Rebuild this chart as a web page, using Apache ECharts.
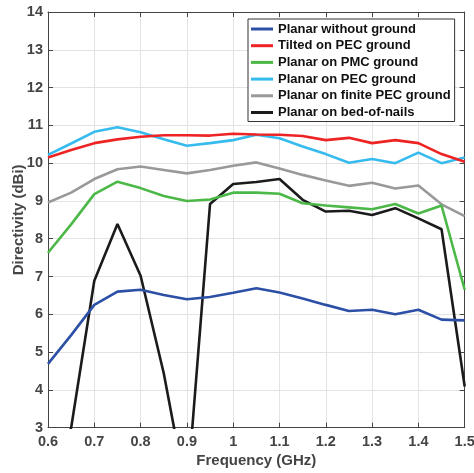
<!DOCTYPE html>
<html>
<head>
<meta charset="utf-8">
<script src="https://cdn.jsdelivr.net/npm/echarts@6/dist/echarts.min.js"></script>
<style>
html,body{margin:0;padding:0;background:#fff;}
#chart{width:474px;height:473px;}
</style>
</head>
<body>
<div id="chart"></div>
<script>
var freqs = [0.6,0.65,0.7,0.75,0.8,0.85,0.9,0.95,1.0,1.05,1.1,1.15,1.2,1.25,1.3,1.35,1.4,1.45,1.5];
var seriesNames = ['Planar without ground','Tilted on PEC ground','Planar on PMC ground','Planar on PEC ground','Planar on finite PEC ground','Planar on bed-of-nails'];
var planarNoGround = [4.69,5.45,6.25,6.6,6.65,6.51,6.4,6.46,6.57,6.69,6.58,6.42,6.25,6.09,6.12,6.0,6.12,5.86,5.84];
var tiltedPEC      = [10.15,10.35,10.53,10.63,10.7,10.74,10.74,10.73,10.78,10.76,10.75,10.72,10.61,10.67,10.53,10.61,10.53,10.24,10.04];
var planarPMC      = [7.63,8.38,9.18,9.51,9.34,9.13,9.0,9.04,9.22,9.22,9.19,8.94,8.88,8.83,8.78,8.92,8.67,8.88,6.65];
var planarPEC      = [10.22,10.52,10.83,10.95,10.82,10.63,10.46,10.53,10.61,10.75,10.66,10.44,10.24,10.01,10.11,10.0,10.28,10.0,10.15];
var planarFinite   = [8.96,9.22,9.58,9.84,9.91,9.82,9.73,9.82,9.93,10.02,9.86,9.69,9.54,9.4,9.48,9.33,9.41,8.91,8.6];
var bedOfNails     = [1.5,3.0,6.89,8.39,7.02,4.44,1.2,8.92,9.45,9.5,9.58,9.03,8.72,8.74,8.63,8.81,8.54,8.25,4.09];
var colors = ['#2c50a6','#ee2323','#4cb848','#35bbee','#999999','#1b1b1b'];
var allValues = [planarNoGround,tiltedPEC,planarPMC,planarPEC,planarFinite,bedOfNails];

var font = '"Liberation Sans", Arial, Helvetica, sans-serif';
var textCol = '#444444';
var axisCol = '#444444';

function fmtX(v){ var s = v.toFixed(1); if (s.slice(-2) === '.0') s = s.slice(0,-2); return s; }

var series = seriesNames.map(function(name, i){
  return {
    name: name,
    type: 'line',
    data: freqs.map(function(f, j){ return [f, allValues[i][j]]; }),
    showSymbol: false,
    symbol: 'none',
    clip: true,
    lineStyle: {color: colors[i], width: 2.6},
    itemStyle: {color: colors[i]},
    emphasis: {disabled: true},
    z: 10 - i
  };
});

var chart = echarts.init(document.getElementById('chart'), null, {renderer: 'canvas'});
chart.setOption({
  animation: false,
  backgroundColor: '#ffffff',
  grid: {left: 48, top: 12, width: 416.7, height: 415.7, containLabel: false, outerBoundsMode: 'none'},
  legend: {
    data: seriesNames,
    orient: 'vertical',
    left: 248,
    top: 19,
    icon: 'rect',
    itemWidth: 22,
    itemHeight: 3,
    itemGap: 0.7,
    padding: [2, 4, 1, 3],
    borderColor: '#333333',
    borderWidth: 1,
    backgroundColor: '#ffffff',
    textStyle: {fontFamily: font, fontWeight: 'bold', fontSize: 13, color: '#111111', lineHeight: 16},
    selectedMode: false
  },
  xAxis: [{
    type: 'value', min: 0.6, max: 1.5, interval: 0.1,
    name: 'Frequency (GHz)', nameLocation: 'middle', nameGap: 26, nameMoveOverlap: false,
    nameTextStyle: {fontFamily: font, fontWeight: 'bold', fontSize: 15, color: textCol},
    axisLine: {show: true, lineStyle: {color: axisCol, width: 1}},
    axisTick: {show: true, inside: true, length: 5, lineStyle: {color: axisCol}},
    axisLabel: {formatter: fmtX, fontFamily: font, fontWeight: 'bold', fontSize: 14.5, color: textCol, margin: 7},
    splitLine: {show: true, lineStyle: {color: '#e3e3e3', width: 1}}
  },{
    type: 'value', min: 0.6, max: 1.5, interval: 0.1, position: 'top',
    axisLine: {show: true, lineStyle: {color: axisCol, width: 1}},
    axisTick: {show: true, inside: true, length: 5, lineStyle: {color: axisCol}},
    axisLabel: {show: false}, splitLine: {show: false}
  }],
  yAxis: [{
    type: 'value', min: 3, max: 14, interval: 1,
    name: 'Directivity (dBi)', nameLocation: 'middle', nameGap: 22, nameMoveOverlap: false,
    nameTextStyle: {fontFamily: font, fontWeight: 'bold', fontSize: 15, color: textCol},
    axisLine: {show: true, lineStyle: {color: axisCol, width: 1}},
    axisTick: {show: true, inside: true, length: 5, lineStyle: {color: axisCol}},
    axisLabel: {fontFamily: font, fontWeight: 'bold', fontSize: 14.5, color: textCol, margin: 5},
    splitLine: {show: true, lineStyle: {color: '#e3e3e3', width: 1}}
  },{
    type: 'value', min: 3, max: 14, interval: 1, position: 'right',
    axisLine: {show: true, lineStyle: {color: axisCol, width: 1}},
    axisTick: {show: true, inside: true, length: 5, lineStyle: {color: axisCol}},
    axisLabel: {show: false}, splitLine: {show: false}
  }],
  series: series
});
</script>
</body>
</html>
